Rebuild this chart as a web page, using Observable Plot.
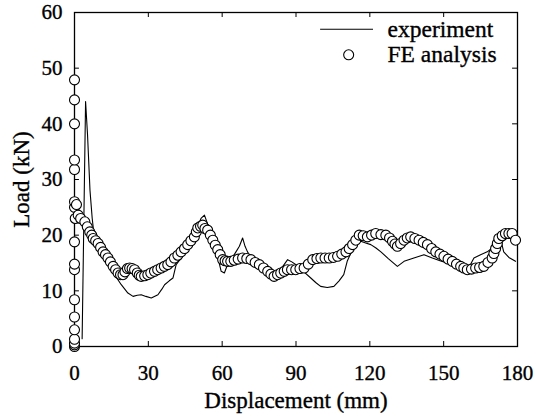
<!DOCTYPE html>
<html>
<head>
<meta charset="utf-8">
<script src="https://cdn.jsdelivr.net/npm/d3@7"></script>
<script src="https://cdn.jsdelivr.net/npm/@observablehq/plot@0.6"></script>
<style>
  html, body { margin: 0; padding: 0; background: white; }
  #chart svg text { font-family: 'Liberation Serif', 'Times New Roman', serif; stroke: black; stroke-width: 0.35px; }
</style>
</head>
<body>
<div id="chart"></div>
<script>
const xTicks = [0, 30, 60, 90, 120, 150, 180];
const yTicks = [0, 10, 20, 30, 40, 50, 60];

// experiment (line)
const expX = [3.1, 4.5, 5.3, 6.3, 7.2, 8.2, 10, 12.3, 14, 16.3, 19, 21.7, 23.8, 25.5, 27.1, 29, 31.2, 33.9, 35.5, 36.6, 38.5, 40, 41.3, 43.5, 46, 48, 50, 51.4, 52.8, 54.5, 56.5, 58.5, 59.6, 60.9, 62, 63.5, 65.6, 67, 68.3, 69.3, 70.3, 72, 74, 75.8, 78, 80, 82.6, 84.5, 86.6, 88.3, 90, 93, 96, 98, 100, 102.7, 105.4, 107.5, 109.4, 110.8, 112.5, 114.5, 116.3, 118.3, 120.4, 122.5, 124.5, 127.5, 131.2, 133.9, 137.9, 142, 145.4, 148.5, 152, 155.5, 159.6, 161, 162.3, 165, 167.7, 170, 173.1, 174.4, 176.5, 179.2];
const expY = [1.4, 44, 38, 28, 23, 19, 17.5, 15.9, 14.5, 12.9, 11.1, 9.6, 9.0, 9.2, 9.3, 9, 8.7, 9.3, 10.3, 11.1, 11.8, 12.3, 14.7, 16, 17.6, 19.5, 21.5, 23, 23.6, 21.5, 18.5, 15.5, 13.5, 13.2, 14.5, 15.5, 17, 18, 19.5, 18, 17, 15.8, 15.2, 14.7, 13.8, 13.2, 12.9, 14.3, 15.6, 15.2, 14.7, 13.5, 12.3, 11.5, 10.8, 10.6, 10.8, 11.8, 12.9, 15.3, 17, 18.5, 18.9, 18.6, 18.3, 17.7, 17, 15.8, 14.4, 15.3, 15.9, 16.5, 15.9, 15.4, 14.9, 14.4, 13.8, 14.8, 15.9, 16.5, 17, 17.8, 19.4, 17, 16, 15.3];

// FE analysis (circles)
const feX = [0, 0, 0, 0, 0, 0, 0, 0, 0, 0, 0, 0, 0, 0, 0, 0, 0,
  0.3, 0.8, 1.5, 2.5, 4.2, 5.2, 6.2, 7, 7.6, 8.6, 9.6, 10.6, 11.6, 12.6, 13.6, 14.6, 15.7, 16.7, 17.7, 18.7, 19.7, 20.5, 21.5, 22.4, 23.4, 24.4, 25.5, 26.3, 27.1, 28.5, 29.8, 31, 32.5, 33.8, 35.2, 36.5, 37.9, 39.2, 40.6, 42, 43.3, 44.7, 46, 47.3, 48.7, 49.5, 50.1, 51.2, 52.1, 53, 54.1, 55.2, 56.2, 57.2, 58.2, 59.2, 60.2, 61.2, 62.2, 63.5, 64.9, 66.5, 68.3, 70, 71.7, 73.4, 75.1, 76.8, 78.5, 79.8, 81.1, 82.5, 83.8, 85.2, 86.5, 88.2, 89.9, 91.6, 93.3, 95, 96.8, 98.5, 100.1, 101.8, 103.5, 105.2, 106.9, 108.6, 110.3, 111.6, 113, 114.3, 115.7, 117.3, 119, 120.7, 122.4, 124.5, 126.5, 128, 129.2, 130.2, 131.2, 132.5, 133.9, 135.2, 136.6, 138.3, 140, 141.7, 143.4, 145.1, 146.8, 148.5, 150.1, 151.8, 153.5, 155.2, 156.9, 158.2, 159.6, 161.3, 163, 164.6, 166.3, 168, 169.7, 170.4, 171.1, 171.8, 172.4, 173.8, 175.1, 176.5, 177.8, 179.2];
const feY = [0, 0.3, 0.6, 1.3, 3, 5.3, 8.4, 13.8, 14.8, 18.8, 25, 26, 31.8, 33.5, 40, 44.3, 47.9,
  23, 25.5, 23.6, 23, 22.4, 21.5, 20.6, 20, 19.4, 19, 18.5, 17.8, 17, 16.5, 15.9, 15.2, 14.4, 13.8, 13.2, 12.9, 12.9, 13.4, 14, 14.1, 14, 13.8, 13.2, 12.8, 12.6, 12.7, 12.9, 13.2, 13.5, 13.8, 14.1, 14.4, 14.7, 15.2, 15.9, 16.4, 17, 17.6, 18.3, 19, 19.7, 20.6, 21.3, 21.6, 21.8, 21.2, 20.9, 20, 19.1, 18.2, 17.4, 16.5, 15.6, 15.4, 15.3, 15.3, 15.5, 15.7, 15.9, 15.8, 15.6, 15.1, 14.7, 14.1, 13.5, 13, 12.6, 12.9, 13.2, 13.5, 13.8, 13.8, 13.8, 14, 14.1, 14.8, 15.6, 15.8, 15.9, 15.9, 15.9, 16, 16.2, 16.6, 17, 17.6, 18.3, 19.1, 20, 19.9, 19.7, 20, 20.3, 20.1, 20, 19.5, 18.9, 18.4, 18, 18.5, 19.1, 19.5, 19.7, 19.4, 19.1, 18.7, 18.3, 17.6, 17, 16.6, 16.2, 15.7, 15.3, 14.8, 14.4, 14.1, 13.8, 13.9, 14.1, 14.2, 14.4, 15.1, 15.9, 16.7, 17.6, 18.5, 19.4, 19.9, 20.3, 20.3, 20.3, 19.1];

const expData = expX.map((x, i) => ({x, y: expY[i]}));
const feData = feX.map((x, i) => ({x, y: feY[i]}));

const chart = Plot.plot({
  width: 540,
  height: 416,
  marginLeft: 74,
  marginRight: 23,
  marginTop: 12,
  marginBottom: 70,
  style: {fontFamily: "'Liberation Serif', 'Times New Roman', serif", fontSize: "20px", color: "black", background: "white"},
  x: {domain: [0, 180], nice: false},
  y: {domain: [0, 60], nice: false},
  marks: [
    Plot.frame({stroke: "black", strokeWidth: 1.3}),
    Plot.axisX(xTicks, {tickSize: 0, tickPadding: 19, label: null, fontSize: 21}),
    Plot.axisY(yTicks, {tickSize: 0, tickPadding: 12, label: null, fontSize: 21}),
    Plot.ruleX(xTicks, {x: d => d, y1: 0, y2: 0.9, stroke: "black"}),
    Plot.ruleX(xTicks, {x: d => d, y1: 60, y2: 59.1, stroke: "black"}),
    Plot.ruleY(yTicks, {y: d => d, x1: 0, x2: 2, stroke: "black"}),
    Plot.ruleY(yTicks, {y: d => d, x1: 180, x2: 178, stroke: "black"}),
    Plot.line(expData, {x: "x", y: "y", stroke: "black", strokeWidth: 1.1}),
    Plot.dot(feData, {x: "x", y: "y", r: 5, fill: "white", stroke: "black", strokeWidth: 1.1}),
    // legend
    Plot.ruleY([57], {x1: 100, x2: 121.5, stroke: "black", strokeWidth: 1.1}),
    Plot.dot([52.4], {x: 111.4, y: d => d, r: 5, fill: "white", stroke: "black", strokeWidth: 1.1}),
    Plot.text(["experiment"], {x: 127.2, y: 57, textAnchor: "start", lineAnchor: "middle", fontSize: 23.5}),
    Plot.text(["FE analysis"], {x: 127.2, y: 52.4, textAnchor: "start", lineAnchor: "middle", fontSize: 23.5}),
    // axis titles
    Plot.text(["Load (kN)"], {frameAnchor: "left", rotate: -90, dx: -53, textAnchor: "middle", lineAnchor: "middle", fontSize: 23}),
    Plot.text(["Displacement (mm)"], {frameAnchor: "bottom", dy: 54, textAnchor: "middle", lineAnchor: "middle", fontSize: 23})
  ]
});
document.getElementById("chart").appendChild(chart);
</script>
</body>
</html>
